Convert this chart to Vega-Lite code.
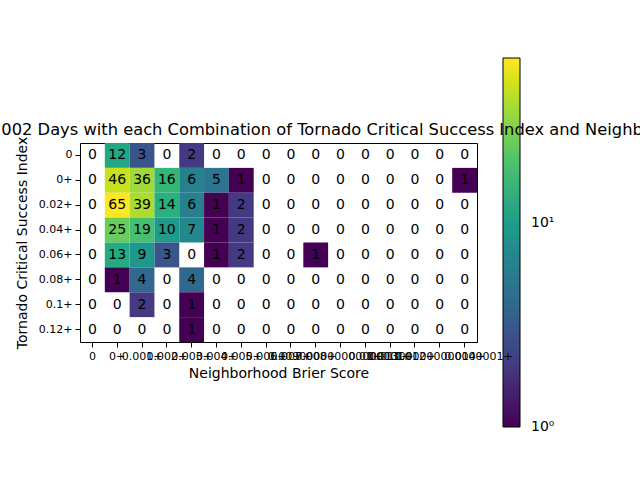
{
  "$schema": "https://vega.github.io/schema/vega-lite/v6.json",
  "width": 397,
  "height": 199,
  "autosize": {"type": "none"},
  "padding": {"left": 80, "top": 143, "right": 163, "bottom": 138},
  "title": {
    "text": "2002 Days with each Combination of Tornado Critical Success Index and Neighborhood Brier Score",
    "anchor": "start",
    "frame": "group",
    "dx": -89,
    "fontSize": 16.3,
    "fontWeight": "normal",
    "font": "DejaVu Sans",
    "color": "black",
    "offset": -80
  },
  "datasets": {
    "cells": [
      {"nbs": "0", "csi": "0", "n": 0}, {"nbs": "0+", "csi": "0", "n": 12}, {"nbs": "0.001+", "csi": "0", "n": 3}, {"nbs": "0.002+", "csi": "0", "n": 0},
      {"nbs": "0.003+", "csi": "0", "n": 2}, {"nbs": "0.004+", "csi": "0", "n": 0}, {"nbs": "0.005+", "csi": "0", "n": 0}, {"nbs": "0.006+", "csi": "0", "n": 0},
      {"nbs": "0.007+", "csi": "0", "n": 0}, {"nbs": "0.008+", "csi": "0", "n": 0}, {"nbs": "0.009000000000000001+", "csi": "0", "n": 0}, {"nbs": "0.01+", "csi": "0", "n": 0},
      {"nbs": "0.011+", "csi": "0", "n": 0}, {"nbs": "0.012+", "csi": "0", "n": 0}, {"nbs": "0.013000000000000001+", "csi": "0", "n": 0}, {"nbs": "0.014+", "csi": "0", "n": 0},

      {"nbs": "0", "csi": "0+", "n": 0}, {"nbs": "0+", "csi": "0+", "n": 46}, {"nbs": "0.001+", "csi": "0+", "n": 36}, {"nbs": "0.002+", "csi": "0+", "n": 16},
      {"nbs": "0.003+", "csi": "0+", "n": 6}, {"nbs": "0.004+", "csi": "0+", "n": 5}, {"nbs": "0.005+", "csi": "0+", "n": 1}, {"nbs": "0.006+", "csi": "0+", "n": 0},
      {"nbs": "0.007+", "csi": "0+", "n": 0}, {"nbs": "0.008+", "csi": "0+", "n": 0}, {"nbs": "0.009000000000000001+", "csi": "0+", "n": 0}, {"nbs": "0.01+", "csi": "0+", "n": 0},
      {"nbs": "0.011+", "csi": "0+", "n": 0}, {"nbs": "0.012+", "csi": "0+", "n": 0}, {"nbs": "0.013000000000000001+", "csi": "0+", "n": 0}, {"nbs": "0.014+", "csi": "0+", "n": 1},

      {"nbs": "0", "csi": "0.02+", "n": 0}, {"nbs": "0+", "csi": "0.02+", "n": 65}, {"nbs": "0.001+", "csi": "0.02+", "n": 39}, {"nbs": "0.002+", "csi": "0.02+", "n": 14},
      {"nbs": "0.003+", "csi": "0.02+", "n": 6}, {"nbs": "0.004+", "csi": "0.02+", "n": 1}, {"nbs": "0.005+", "csi": "0.02+", "n": 2}, {"nbs": "0.006+", "csi": "0.02+", "n": 0},
      {"nbs": "0.007+", "csi": "0.02+", "n": 0}, {"nbs": "0.008+", "csi": "0.02+", "n": 0}, {"nbs": "0.009000000000000001+", "csi": "0.02+", "n": 0}, {"nbs": "0.01+", "csi": "0.02+", "n": 0},
      {"nbs": "0.011+", "csi": "0.02+", "n": 0}, {"nbs": "0.012+", "csi": "0.02+", "n": 0}, {"nbs": "0.013000000000000001+", "csi": "0.02+", "n": 0}, {"nbs": "0.014+", "csi": "0.02+", "n": 0},

      {"nbs": "0", "csi": "0.04+", "n": 0}, {"nbs": "0+", "csi": "0.04+", "n": 25}, {"nbs": "0.001+", "csi": "0.04+", "n": 19}, {"nbs": "0.002+", "csi": "0.04+", "n": 10},
      {"nbs": "0.003+", "csi": "0.04+", "n": 7}, {"nbs": "0.004+", "csi": "0.04+", "n": 1}, {"nbs": "0.005+", "csi": "0.04+", "n": 2}, {"nbs": "0.006+", "csi": "0.04+", "n": 0},
      {"nbs": "0.007+", "csi": "0.04+", "n": 0}, {"nbs": "0.008+", "csi": "0.04+", "n": 0}, {"nbs": "0.009000000000000001+", "csi": "0.04+", "n": 0}, {"nbs": "0.01+", "csi": "0.04+", "n": 0},
      {"nbs": "0.011+", "csi": "0.04+", "n": 0}, {"nbs": "0.012+", "csi": "0.04+", "n": 0}, {"nbs": "0.013000000000000001+", "csi": "0.04+", "n": 0}, {"nbs": "0.014+", "csi": "0.04+", "n": 0},

      {"nbs": "0", "csi": "0.06+", "n": 0}, {"nbs": "0+", "csi": "0.06+", "n": 13}, {"nbs": "0.001+", "csi": "0.06+", "n": 9}, {"nbs": "0.002+", "csi": "0.06+", "n": 3},
      {"nbs": "0.003+", "csi": "0.06+", "n": 0}, {"nbs": "0.004+", "csi": "0.06+", "n": 1}, {"nbs": "0.005+", "csi": "0.06+", "n": 2}, {"nbs": "0.006+", "csi": "0.06+", "n": 0},
      {"nbs": "0.007+", "csi": "0.06+", "n": 0}, {"nbs": "0.008+", "csi": "0.06+", "n": 1}, {"nbs": "0.009000000000000001+", "csi": "0.06+", "n": 0}, {"nbs": "0.01+", "csi": "0.06+", "n": 0},
      {"nbs": "0.011+", "csi": "0.06+", "n": 0}, {"nbs": "0.012+", "csi": "0.06+", "n": 0}, {"nbs": "0.013000000000000001+", "csi": "0.06+", "n": 0}, {"nbs": "0.014+", "csi": "0.06+", "n": 0},

      {"nbs": "0", "csi": "0.08+", "n": 0}, {"nbs": "0+", "csi": "0.08+", "n": 1}, {"nbs": "0.001+", "csi": "0.08+", "n": 4}, {"nbs": "0.002+", "csi": "0.08+", "n": 0},
      {"nbs": "0.003+", "csi": "0.08+", "n": 4}, {"nbs": "0.004+", "csi": "0.08+", "n": 0}, {"nbs": "0.005+", "csi": "0.08+", "n": 0}, {"nbs": "0.006+", "csi": "0.08+", "n": 0},
      {"nbs": "0.007+", "csi": "0.08+", "n": 0}, {"nbs": "0.008+", "csi": "0.08+", "n": 0}, {"nbs": "0.009000000000000001+", "csi": "0.08+", "n": 0}, {"nbs": "0.01+", "csi": "0.08+", "n": 0},
      {"nbs": "0.011+", "csi": "0.08+", "n": 0}, {"nbs": "0.012+", "csi": "0.08+", "n": 0}, {"nbs": "0.013000000000000001+", "csi": "0.08+", "n": 0}, {"nbs": "0.014+", "csi": "0.08+", "n": 0},

      {"nbs": "0", "csi": "0.1+", "n": 0}, {"nbs": "0+", "csi": "0.1+", "n": 0}, {"nbs": "0.001+", "csi": "0.1+", "n": 2}, {"nbs": "0.002+", "csi": "0.1+", "n": 0},
      {"nbs": "0.003+", "csi": "0.1+", "n": 1}, {"nbs": "0.004+", "csi": "0.1+", "n": 0}, {"nbs": "0.005+", "csi": "0.1+", "n": 0}, {"nbs": "0.006+", "csi": "0.1+", "n": 0},
      {"nbs": "0.007+", "csi": "0.1+", "n": 0}, {"nbs": "0.008+", "csi": "0.1+", "n": 0}, {"nbs": "0.009000000000000001+", "csi": "0.1+", "n": 0}, {"nbs": "0.01+", "csi": "0.1+", "n": 0},
      {"nbs": "0.011+", "csi": "0.1+", "n": 0}, {"nbs": "0.012+", "csi": "0.1+", "n": 0}, {"nbs": "0.013000000000000001+", "csi": "0.1+", "n": 0}, {"nbs": "0.014+", "csi": "0.1+", "n": 0},

      {"nbs": "0", "csi": "0.12+", "n": 0}, {"nbs": "0+", "csi": "0.12+", "n": 0}, {"nbs": "0.001+", "csi": "0.12+", "n": 0}, {"nbs": "0.002+", "csi": "0.12+", "n": 0},
      {"nbs": "0.003+", "csi": "0.12+", "n": 1}, {"nbs": "0.004+", "csi": "0.12+", "n": 0}, {"nbs": "0.005+", "csi": "0.12+", "n": 0}, {"nbs": "0.006+", "csi": "0.12+", "n": 0},
      {"nbs": "0.007+", "csi": "0.12+", "n": 0}, {"nbs": "0.008+", "csi": "0.12+", "n": 0}, {"nbs": "0.009000000000000001+", "csi": "0.12+", "n": 0}, {"nbs": "0.01+", "csi": "0.12+", "n": 0},
      {"nbs": "0.011+", "csi": "0.12+", "n": 0}, {"nbs": "0.012+", "csi": "0.12+", "n": 0}, {"nbs": "0.013000000000000001+", "csi": "0.12+", "n": 0}, {"nbs": "0.014+", "csi": "0.12+", "n": 0}
    ]
  },
  "data": {"name": "cells"},
  "encoding": {
    "x": {
      "field": "nbs",
      "type": "nominal",
      "sort": ["0", "0+", "0.001+", "0.002+", "0.003+", "0.004+", "0.005+", "0.006+", "0.007+", "0.008+", "0.009000000000000001+", "0.01+", "0.011+", "0.012+", "0.013000000000000001+", "0.014+"],
      "scale": {"paddingInner": 0, "paddingOuter": 0},
      "axis": {
        "title": "Neighborhood Brier Score",
        "labelAngle": 0,
        "labelOverlap": false,
        "labelFontSize": 11,
        "tickSize": 5,
        "labelPadding": 3,
        "titlePadding": 5
      }
    },
    "y": {
      "field": "csi",
      "type": "nominal",
      "sort": ["0", "0+", "0.02+", "0.04+", "0.06+", "0.08+", "0.1+", "0.12+"],
      "scale": {"paddingInner": 0, "paddingOuter": 0},
      "axis": {
        "title": "Tornado Critical Success Index",
        "labelFontSize": 11,
        "tickSize": 5,
        "labelPadding": 3,
        "titlePadding": 9
      }
    }
  },
  "layer": [
    {
      "transform": [{"filter": "datum.n > 0"}],
      "mark": {"type": "rect"},
      "encoding": {
        "color": {
          "field": "n",
          "type": "quantitative",
          "scale": {"type": "log", "scheme": "viridis", "domain": [1, 65]},
          "legend": {
            "title": null,
            "orient": "none",
            "direction": "vertical",
            "legendX": 423,
            "legendY": -85,
            "gradientLength": 369,
            "gradientThickness": 17,
            "gradientStrokeColor": "black",
            "gradientStrokeWidth": 1,
            "values": [1.005, 10],
            "labelExpr": "datum.value < 2 ? '10⁰' : '10¹'",
            "labelFontSize": 14,
            "labelOffset": 11,
            "labelColor": "black",
            "labelOverlap": false
          }
        }
      }
    },
    {
      "mark": {"type": "text", "fontSize": 14, "color": "black", "baseline": "middle"},
      "encoding": {"text": {"field": "n", "type": "quantitative"}}
    }
  ],
  "config": {
    "font": "DejaVu Sans",
    "view": {"stroke": "black", "strokeWidth": 1},
    "axis": {
      "grid": false,
      "domain": false,
      "tickColor": "black",
      "labelColor": "black",
      "titleColor": "black",
      "titleFontSize": 14,
      "titleFontWeight": "normal"
    }
  }
}
